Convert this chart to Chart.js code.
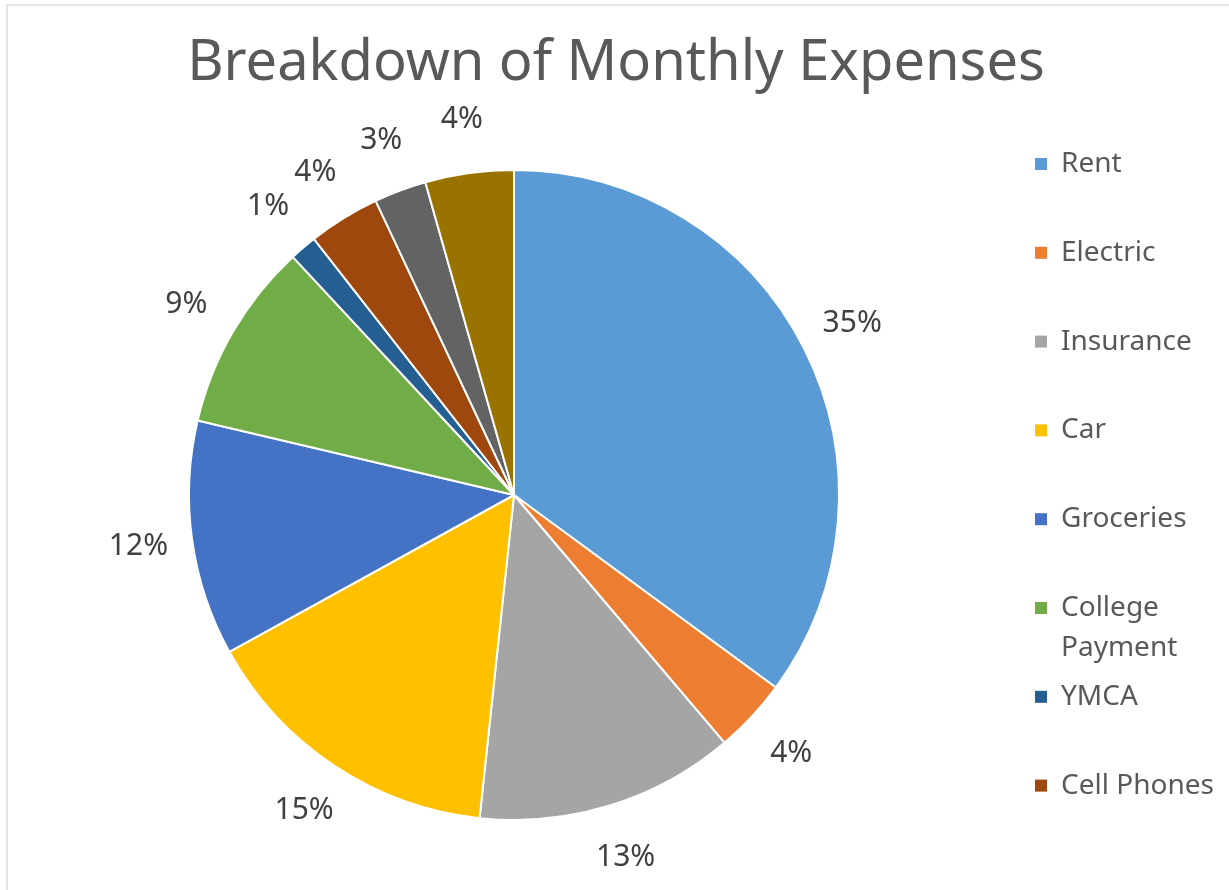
<!DOCTYPE html>
<html>
<head>
<meta charset="utf-8">
<script src="https://cdn.jsdelivr.net/npm/chart.js@4.4.1/dist/chart.umd.min.js"></script>
<style>
  body { margin: 0; background: #fff; }
  #frame { position: absolute; left: 6px; top: 4px; width: 1240px; height: 900px;
           border-left: 2px solid #e4e4e4; border-top: 2px solid #e4e4e4; }
  canvas { position: absolute; left: 0; top: 0; }
</style>
</head>
<body>
<div id="frame"></div>
<canvas id="expenseChart" width="1229" height="890"></canvas>
<script>
// categories and share of monthly spending (percent)
var categories = ['Rent', 'Electric', 'Insurance', 'Car', 'Groceries',
                  'College Payment', 'YMCA', 'Cell Phones', 'Other 1', 'Other 2'];
var shares = [35.1, 3.7, 12.9, 15.3, 11.7, 9.4, 1.36, 3.56, 2.6, 4.4];
var sliceColors = ['#5B9BD5', '#ED7D31', '#A5A5A5', '#FFC000', '#4472C4',
                   '#70AD47', '#255E91', '#9E480E', '#636363', '#997300'];
// the legend in the original is cut off after this many entries
var legendCount = 8;
var chartTitle = 'Breakdown of Monthly Expenses';

var FONT = '"Noto Sans", "DejaVu Sans", sans-serif';

// title drawn over the whole canvas width (pie sits left of centre)
var wideTitle = {
  id: 'wideTitle',
  afterDraw: function(chart) {
    var ctx = chart.ctx;
    ctx.save();
    ctx.font = '56px ' + FONT;
    ctx.fillStyle = '#595959';
    ctx.textAlign = 'center';
    ctx.textBaseline = 'alphabetic';
    ctx.fillText(chartTitle, 616, 80);
    ctx.restore();
  }
};

// percent labels sitting outside each slice
var outsideLabels = {
  id: 'outsideLabels',
  afterDatasetsDraw: function(chart) {
    var ctx = chart.ctx;
    var meta = chart.getDatasetMeta(0);
    var data = chart.data.datasets[0].data;
    var total = data.reduce(function(a, b) { return a + b; }, 0);
    ctx.save();
    ctx.font = '30px ' + FONT;
    ctx.fillStyle = '#404040';
    ctx.textAlign = 'center';
    ctx.textBaseline = 'middle';
    meta.data.forEach(function(arc, i) {
      var p = arc.getProps(['x', 'y', 'startAngle', 'endAngle', 'outerRadius'], true);
      var mid = (p.startAngle + p.endAngle) / 2;
      var r = p.outerRadius + 54;
      var txt = Math.round(data[i] / total * 100) + '%';
      ctx.fillText(txt, p.x + Math.cos(mid) * r, p.y + Math.sin(mid) * r);
    });
    ctx.restore();
  }
};

// vertical legend on the right, fixed spacing, long names wrap
var sideLegend = {
  id: 'sideLegend',
  afterDraw: function(chart) {
    var ctx = chart.ctx;
    var x = 1035, y = 164, step = 88.8, maxW = 165;
    ctx.save();
    ctx.font = '28px ' + FONT;
    ctx.textBaseline = 'middle';
    for (var i = 0; i < legendCount; i++) {
      var label = chart.data.labels[i];
      ctx.fillStyle = sliceColors[i];
      ctx.fillRect(x, y - 6, 12, 12);
      ctx.fillStyle = '#595959';
      var lines = [label];
      if (ctx.measureText(label).width > maxW) lines = label.split(' ');
      lines.forEach(function(line, j) {
        ctx.fillText(line, x + 26, y + j * 40);
      });
      y += step;
    }
    ctx.restore();
  }
};

var ctx = document.getElementById('expenseChart').getContext('2d');
var expenseChart = new Chart(ctx, {
  type: 'pie',
  data: {
    labels: categories,
    datasets: [{
      data: shares,
      backgroundColor: sliceColors,
      borderColor: '#ffffff',
      borderWidth: 2
    }]
  },
  options: {
    responsive: false,
    animation: false,
    layout: { padding: { left: 188, right: 389, top: 169, bottom: 69 } },
    plugins: {
      legend: { display: false },
      tooltip: { enabled: false },
      title: { display: false }
    }
  },
  plugins: [outsideLabels, sideLegend, wideTitle]
});
</script>
</body>
</html>
